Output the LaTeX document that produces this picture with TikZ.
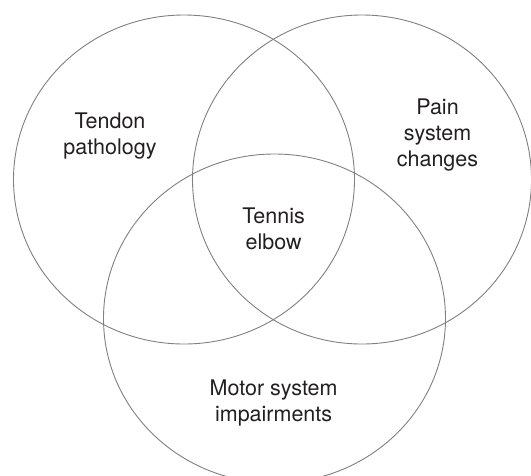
\documentclass[tikz,border=0pt]{standalone}
\usepackage{fontspec}
\setmainfont{TeX Gyre Heros}
\definecolor{vgray}{RGB}{128,128,128}
\definecolor{txt}{RGB}{35,31,32}
\begin{document}
\begin{tikzpicture}[x=1pt,y=-1pt,
  venn/.style={draw=vgray, line width=0.9pt},
  lbl/.style={align=center, font=\fontsize{21.5}{25.8}\selectfont, text=txt, inner sep=0pt, anchor=base}]
\useasboundingbox (0,0) rectangle (531,475);
\begin{scope}
\clip (0,0) rectangle (531,475);
\draw[venn] (184,179.5) ellipse [x radius=170.5, y radius=164.5];
\draw[venn] (362,179.5) ellipse [x radius=169.5, y radius=164.5];
\draw[venn] (274.5,318.5) ellipse [x radius=171, y radius=164.5];
\end{scope}
\node[lbl] (tendon) at (110,154.7) {Tendon\\pathology};
\node[lbl] (pain) at (437.5,166) {Pain\\system\\changes};
\node[lbl] (tennis) at (273.6,249) {Tennis\\elbow};
\node[lbl] (motor) at (273.6,421.6) {Motor system\\impairments};
\end{tikzpicture}
\end{document}
